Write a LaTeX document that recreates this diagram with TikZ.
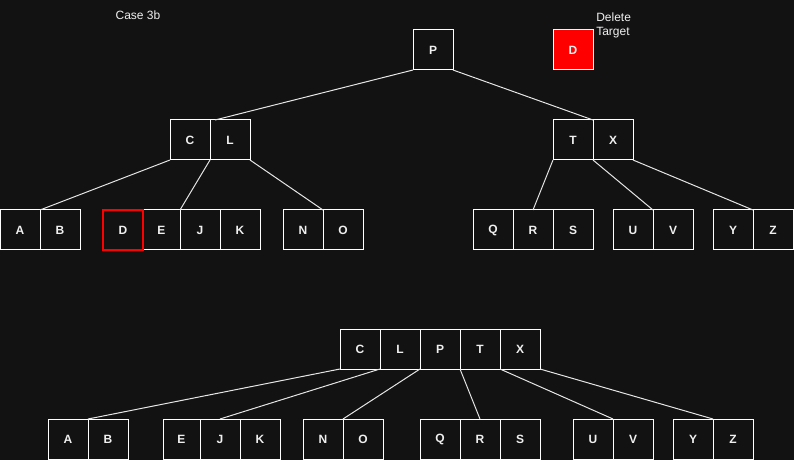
\documentclass[tikz,border=0pt]{standalone}
\usepackage{fontspec}
\setmainfont{Liberation Sans}
\definecolor{bg}{HTML}{121212}
\definecolor{txt}{HTML}{F0F0F0}
\definecolor{edgec}{HTML}{E6E6E6}
\definecolor{delred}{HTML}{FF0000}
\begin{document}
\begin{tikzpicture}[x=0.75pt,y=-0.75pt,
  box/.style={draw=white,fill=bg,line width=0.75pt,minimum width=30pt,minimum height=30pt,
    inner sep=0pt,outer sep=0pt,text=txt,font=\bfseries\fontsize{9}{11}\selectfont},
  redbox/.style={box,draw=delred,line width=1.4pt},
  narrow/.style={minimum width=27.75pt},
  edge/.style={draw=edgec,line width=0.75pt},
  txtlabel/.style={text=txt,font=\fontsize{9}{10.5}\selectfont,inner sep=0pt}]
\fill[bg] (0,0) rectangle (794,460);
\useasboundingbox (0,0) rectangle (794,460);

\node[txtlabel] (case) at (138,15) {Case 3b};
\node[txtlabel,anchor=west,align=left] (deltxt) at (596,25) {Delete\\Target};

% upper tree
\node[box] (P) at (433,50) {P};
\node[box,fill=delred] (Dt) at (573,50) {D};
\node[box] (C1) at (190,140) {C};
\node[box] (L1) at (230,140) {L};
\node[box] (T1) at (573,140) {T};
\node[box] (X1) at (613,140) {X};

\node[box] (A1) at (20,230) {A};
\node[box] (B1) at (60,230) {B};
\node[box,narrow] (E1) at (161.5,230) {E};
\node[redbox] (D1) at (123,230) {D};
\node[box] (J1) at (200,230) {J};
\node[box] (K1) at (240,230) {K};
\node[box] (N1) at (303,230) {N};
\node[box] (O1) at (343,230) {O};
\node[box] (Q1) at (493,230) {Q};
\node[box] (R1) at (533,230) {R};
\node[box] (S1) at (573,230) {S};
\node[box] (U1) at (633,230) {U};
\node[box] (V1) at (673,230) {V};
\node[box] (Y1) at (733,230) {Y};
\node[box] (Z1) at (773,230) {Z};

\draw[edge] (P.south west) -- ([xshift=3.75pt]L1.north west);
\draw[edge] (P.south east) -- (X1.north west);
\draw[edge] (C1.south west) -- (A1.north east);
\draw[edge] (C1.south east) -- (E1.north east);
\draw[edge] (L1.south east) -- (N1.north east);
\draw[edge] (T1.south west) -- (R1.north);
\draw[edge] (T1.south east) -- (U1.north east);
\draw[edge] (X1.south east) -- (Y1.north east);

% lower tree
\node[box] (C2) at (360,349) {C};
\node[box] (L2) at (400,349) {L};
\node[box] (P2) at (440,349) {P};
\node[box] (T2) at (480,349) {T};
\node[box] (X2) at (520,349) {X};

\node[box] (A2) at (68,439) {A};
\node[box] (B2) at (108,439) {B};
\node[box,narrow] (E2) at (181.5,439) {E};
\node[box] (J2) at (220,439) {J};
\node[box] (K2) at (260,439) {K};
\node[box] (N2) at (323,439) {N};
\node[box] (O2) at (363,439) {O};
\node[box] (Q2) at (440,439) {Q};
\node[box] (R2) at (480,439) {R};
\node[box] (S2) at (520,439) {S};
\node[box] (U2) at (593,439) {U};
\node[box] (V2) at (633,439) {V};
\node[box] (Y2) at (693,439) {Y};
\node[box] (Z2) at (733,439) {Z};

\draw[edge] (C2.south west) -- (A2.north east);
\draw[edge] (L2.south west) -- (J2.north);
\draw[edge] (L2.south east) -- (N2.north east);
\draw[edge] (P2.south east) -- (R2.north);
\draw[edge] (T2.south east) -- (U2.north east);
\draw[edge] (X2.south east) -- (Y2.north east);
\end{tikzpicture}
\end{document}
